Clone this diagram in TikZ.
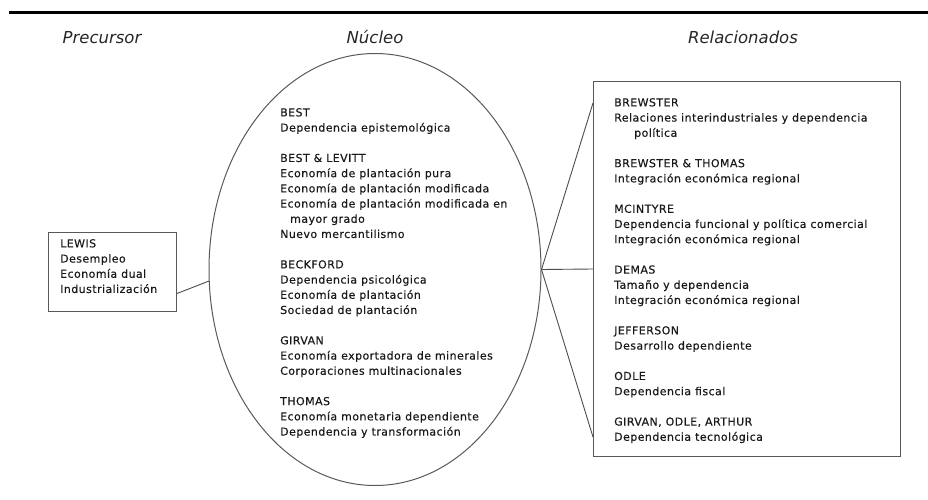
\documentclass[tikz,border=0pt]{standalone}
\usepackage{fontspec}
\setmainfont{DejaVu Sans}
\newfontfamily\bodyfont{DejaVu Sans}[LetterSpace=4,FakeBold=0.35]
\usetikzlibrary{shapes.geometric}
\begin{document}
\begin{tikzpicture}[x=1pt,y=-1pt,
  txt/.style={anchor=north west, inner sep=0pt, align=left, text=black!90, font=\bodyfont\fontsize{11}{15.2}\selectfont},
  head/.style={anchor=base, inner sep=0pt, text=black!85, font=\fontsize{16.5}{18}\selectfont\itshape},
  frame/.style={draw=black!65, line width=1pt},
  conn/.style={draw=black!70, line width=0.9pt}]
\useasboundingbox (0,0) rectangle (928,500);
% top rule
\draw[line width=2.5pt] (9,12.5) -- (928,12.5);
% headings
\node[head] (hpre) at (102,44) {Precursor};
\node[head] (hnuc) at (375,43.5) {Núcleo};
\node[head] (hrel) at (743,43.5) {Relacionados};
% shapes
\node[frame, rectangle, minimum width=128pt, minimum height=79pt, inner sep=0pt, anchor=north west] (lewis) at (48,232) {};
\node[frame, ellipse, minimum width=332pt, minimum height=432pt, inner sep=0pt] (nuc) at (375,269.5) {};
\node[frame, rectangle, minimum width=307pt, minimum height=375pt, inner sep=0pt, anchor=north west] (rel) at (593,81) {};
% texts
\node[txt] (lewistxt) at (60,239) {LEWIS\\Desempleo\\Economía dual\\Industrialización};
\node[txt] (nuctxt) at (280,108) {BEST\\Dependencia epistemológica\\[15.2pt]
BEST \& LEVITT\\Economía de plantación pura\\Economía de plantación modificada\\Economía de plantación modificada en\\\hspace*{10pt}mayor grado\\Nuevo mercantilismo\\[15.2pt]
BECKFORD\\Dependencia psicológica\\Economía de plantación\\Sociedad de plantación\\[15.2pt]
GIRVAN\\Economía exportadora de minerales\\Corporaciones multinacionales\\[15.2pt]
THOMAS\\Economía monetaria dependiente\\Dependencia y transformación};
\node[txt] (reltxt) at (614,98) {BREWSTER\\Relaciones interindustriales y dependencia\\\hspace*{20pt}política\\[15.2pt]
BREWSTER \& THOMAS\\Integración económica regional\\[15.2pt]
MCINTYRE\\Dependencia funcional y política comercial\\Integración económica regional\\[15.2pt]
DEMAS\\Tamaño y dependencia\\Integración económica regional\\[15.2pt]
JEFFERSON\\Desarrollo dependiente\\[15.2pt]
ODLE\\Dependencia fiscal\\[15.2pt]
GIRVAN, ODLE, ARTHUR\\Dependencia tecnológica};
% connectors
\draw[conn] ([yshift=-21.5pt]lewis.east) -- (nuc.184);
\draw[conn] (nuc.east) -- ([yshift=-22pt]rel.north west);
\draw[conn] (nuc.east) -- (rel.west);
\draw[conn] (nuc.east) -- ([yshift=20pt]rel.south west);
\end{tikzpicture}
\end{document}
